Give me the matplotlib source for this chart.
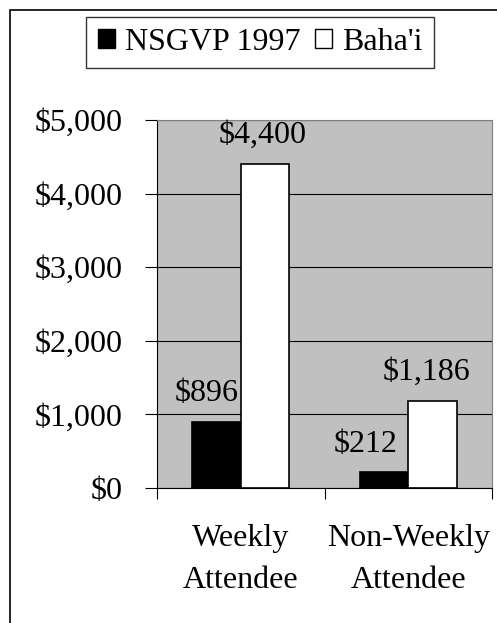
import matplotlib.pyplot as plt
from matplotlib.patches import Rectangle, Patch
import numpy as np

categories = ["Weekly\nAttendee", "Non-Weekly\nAttendee"]
series_names = ["NSGVP 1997", "Baha'i"]
nsgvp = [896, 212]
bahai = [4400, 1186]
yticks = [0, 1000, 2000, 3000, 4000, 5000]

plt.rcParams['font.family'] = ['Liberation Serif', 'DejaVu Serif']
fs = 23

fig = plt.figure(figsize=(4.97, 6.23), dpi=100)
ax = fig.add_axes([157/497, 1 - 488/623, (492 - 157)/497, (488 - 120)/623])
ax.set_facecolor('#c0c0c0')

x = np.arange(len(categories))
w = 0.29
b1 = ax.bar(x - w/2, nsgvp, w, color='black', edgecolor='black', linewidth=1.2, zorder=3)
b2 = ax.bar(x + w/2, bahai, w, color='white', edgecolor='black', linewidth=1.2, zorder=3)

# label shifts (points) so neighbouring labels don't collide, as in the original
shifts = [[-7, -2], [-13, -4]]
for j, (bars, vals) in enumerate([(b1, nsgvp), (b2, bahai)]):
    for i, (r, v) in enumerate(zip(bars, vals)):
        ax.annotate(f"${v:,}", (r.get_x() + r.get_width()/2, v),
                    xytext=(shifts[i][j], 10), textcoords='offset points',
                    ha='center', va='bottom', fontsize=fs)

ax.set_xlim(-0.5, 1.5)
ax.set_ylim(0, 5000)
ax.set_yticks(yticks)
ax.set_yticklabels([f"${v:,}" for v in yticks], fontsize=fs)
ax.yaxis.grid(True, color='black', linewidth=0.8, zorder=1)
ax.set_axisbelow(True)

ax.set_xticks([-0.5, 0.5, 1.5])
ax.set_xticklabels([])
ax.set_xticks(x, minor=True)
ax.set_xticklabels(categories, minor=True, fontsize=fs, linespacing=1.6)
ax.tick_params(axis='x', which='minor', length=0, pad=26)
ax.tick_params(axis='x', which='major', length=8, direction='out', color='black')
ax.tick_params(axis='y', length=8.5, direction='out', pad=16)

ax.spines['left'].set_color('black')
ax.spines['bottom'].set_color('black')
ax.spines['top'].set_color('#808080')
ax.spines['right'].set_color('#808080')

# outer chart border (cropped on right/bottom)
fig.patches.append(Rectangle((10/497, -0.1), 1.2, 1 - 10/623 + 0.1,
                             transform=fig.transFigure, fill=False,
                             edgecolor='black', linewidth=1.2))

handles = [Patch(facecolor='black', edgecolor='black'),
           Patch(facecolor='white', edgecolor='black')]
leg = fig.legend(handles, series_names, loc='center',
                 bbox_to_anchor=(260/497, 1 - 42.5/623), ncol=2,
                 fontsize=fs, frameon=True, fancybox=False, edgecolor='black',
                 handlelength=0.55, handleheight=0.55, handletextpad=0.3,
                 columnspacing=0.45, borderpad=0.35, borderaxespad=0)
leg.get_frame().set_linewidth(1.0)

fig.savefig('out.png', dpi=100)
